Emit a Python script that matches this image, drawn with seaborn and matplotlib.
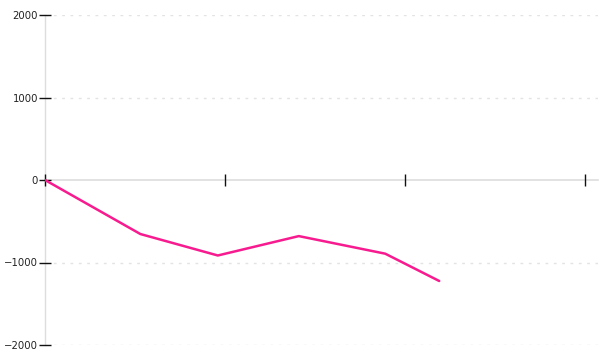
import matplotlib
matplotlib.use("Agg")
import matplotlib.pyplot as plt
import seaborn as sns
import pandas as pd

x_values = [0.0, 0.53, 0.96, 1.41, 1.89, 2.19]
y_values = [0, -655, -915, -680, -893, -1224]
y_ticks = [-2000, -1000, 0, 1000, 2000]
x_ticks = [0, 1, 2, 3]

df = pd.DataFrame({"x": x_values, "y": y_values})

sns.set_theme(style="white")
plt.rcParams['font.family'] = ['DejaVu Sans']

fig = plt.figure(figsize=(6, 3.6), dpi=100)
ax = fig.add_axes([45/600, 15/360, (598-45)/600, 330/360])

sns.lineplot(data=df, x="x", y="y", ax=ax, color="#f81b8f", linewidth=1.8, zorder=2)

ax.set_xlim(0, (598-45)/180)
ax.set_ylim(-2000, 2000)
ax.set_yticks(y_ticks)
ax.set_yticklabels([str(v).replace("-", "\u2212") for v in y_ticks], fontsize=7.3, color="#222222")
ax.set_xticks(x_ticks)
ax.set_xticklabels([])
ax.set_xlabel("")
ax.set_ylabel("")

for v in y_ticks:
    if v != 0:
        ax.axhline(v, color="#e3e3e3", linewidth=1, linestyle=(0, (2, 4)), zorder=0)

for s in ["top", "right"]:
    ax.spines[s].set_visible(False)
ax.spines["left"].set_color("#dddddd")
ax.spines["left"].set_linewidth(1)
ax.spines["left"].set_zorder(0.5)
ax.spines["bottom"].set_position(("data", 0))
ax.spines["bottom"].set_color("#dddddd")
ax.spines["bottom"].set_linewidth(1.2)
ax.spines["bottom"].set_zorder(0.5)

ax.tick_params(axis="y", direction="inout", length=8, width=1, color="#111111", pad=1, left=True)
ax.tick_params(axis="x", direction="inout", length=9, width=1, color="#111111", bottom=True)

fig.savefig("out.png", dpi=100)
